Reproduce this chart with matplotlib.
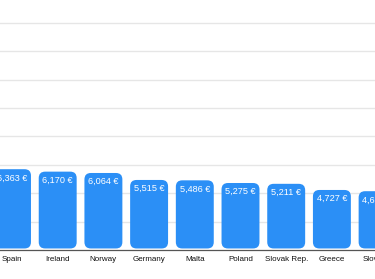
import matplotlib
matplotlib.use("Agg")
import matplotlib.pyplot as plt
from matplotlib.patches import FancyBboxPatch

categories = ["Spain", "Ireland", "Norway", "Germany", "Malta", "Poland", "Slovak Rep.", "Greece", "Slovenia"]
values = [6363, 6170, 6064, 5515, 5486, 5275, 5211, 4727, 4630]
labels = ["6,363 €", "6,170 €", "6,064 €", "5,515 €", "5,486 €", "5,275 €", "5,211 €", "4,727 €", "4,630 €"]
grid_ticks = [2236, 4472, 6708, 8944, 11180, 13416, 15652, 17888]

plt.rcParams['font.family'] = ['Liberation Sans', 'DejaVu Sans']

fig = plt.figure(figsize=(3.75, 2.79), dpi=100)
ax = fig.add_axes([0, 0, 1, 1])

px_per_x = 45.7
px_per_y = 12.7 / 1000.0
x0 = -12 / px_per_x
ax.set_xlim(x0, x0 + 375 / px_per_x)
ybot = -29 / px_per_y
ax.set_ylim(ybot, ybot + 279 / px_per_y)

ax.set_yticks(grid_ticks)
ax.grid(axis='y', color='#e6e6e6', linewidth=1.0)
ax.set_axisbelow(True)
ax.tick_params(left=False, bottom=False, labelleft=False, labelbottom=False)
for s in ax.spines.values():
    s.set_visible(False)

width = 0.83
bars = ax.bar(range(len(categories)), values, width=width, color='none')
r = 0.14
aspect = (6.5 / px_per_y) / (6.5 / px_per_x)
for b in bars:
    bx, by = b.get_x(), b.get_y()
    w, h = b.get_width(), b.get_height()
    p = FancyBboxPatch((bx, by + 120), w, h - 120,
                       boxstyle=f"round,pad=0,rounding_size={r}",
                       mutation_aspect=aspect, facecolor='#2b8ff6',
                       edgecolor='none', zorder=3)
    ax.add_patch(p)
    b.remove()

for i, (v, lab) in enumerate(zip(values, labels)):
    ax.text(i, v - 330, lab, ha='center', va='top', color='white', fontsize=6.6, zorder=4)
    ax.text(i, -750, categories[i], ha='center', va='center', color='#111111', fontsize=5.8)

ax.axhline(0, color='#555555', linewidth=0.9, zorder=2)

fig.savefig("out.png", dpi=100)
